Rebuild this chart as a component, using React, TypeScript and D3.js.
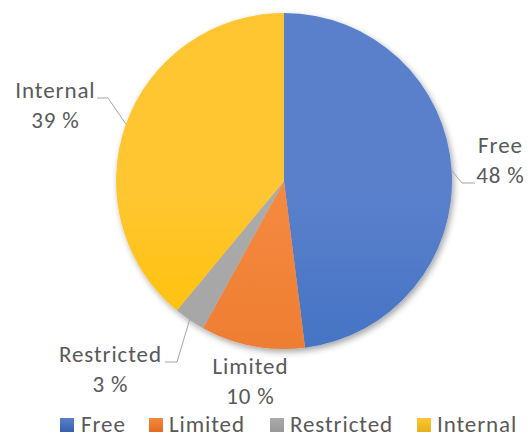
import React from "react";
import * as d3 from "d3";

const categories = ["Free", "Limited", "Restricted", "Internal"];
const values = [48, 10, 3, 39];
const baseColors = ["#4472C4", "#ED7D31", "#A5A5A5", "#FFC000"];
const topColors = ["#5a80cb", "#f5893f", "#ababab", "#ffc632"];
const bottomColors = ["#365fae", "#e26b20", "#999999", "#e4b01c"];

// label layout (center x, first baseline y, elbow, end)
const labelLayout = [
  { x: 500, y: 153, elbow: [462, 183], end: [475, 183] },
  { x: 250, y: 374, elbow: null, end: null },
  { x: 110, y: 362, elbow: [177, 362], end: [165, 362] },
  { x: 55, y: 98, elbow: [108, 98], end: [97, 98] },
];

const W = 529;
const H = 437;
const cx = 284;
const cy = 181;
const R = 168;
const FONT = "Carlito, Calibri, Lato, 'Open Sans', sans-serif";
const TEXT = "#595959";
const LS = 0.9;

export default function App() {
  const pie = d3.pie<number>().sort(null).value((d) => d)(values);
  const arc = d3.arc<d3.PieArcDatum<number>>().innerRadius(0).outerRadius(R);
  const total = d3.sum(values);

  const legendItems = [
    { sq: 60, tx: 81 },
    { sq: 149, tx: 169 },
    { sq: 270, tx: 290 },
    { sq: 417, tx: 437 },
  ];

  return (
    <svg width={W} height={H} style={{ position: "absolute", left: 0, top: 0 }} fontFamily={FONT}>
      <defs>
        {categories.map((c, i) => (
          <linearGradient key={c} id={`g${i}`} gradientUnits="userSpaceOnUse" x1={0} y1={cy - R} x2={0} y2={cy + R}>
            <stop offset="0%" stopColor={topColors[i]} />
            <stop offset="50%" stopColor={baseColors[i]} />
            <stop offset="100%" stopColor={bottomColors[i]} />
          </linearGradient>
        ))}
        {categories.map((c, i) => (
          <linearGradient key={c} id={`lg${i}`} x1={0} y1={0} x2={0} y2={1}>
            <stop offset="0%" stopColor={topColors[i]} />
            <stop offset="100%" stopColor={bottomColors[i]} />
          </linearGradient>
        ))}
        <filter id="shadow" x="-20%" y="-20%" width="140%" height="140%">
          <feDropShadow dx="2" dy="3" stdDeviation="3" floodColor="#000" floodOpacity="0.35" />
        </filter>
      </defs>
      <g transform={`translate(${cx},${cy})`} filter="url(#shadow)">
        {pie.map((p, i) => (
          <path key={i} d={arc(p) || ""} fill={`url(#g${i})`} />
        ))}
      </g>
      {pie.map((p, i) => {
        const L = labelLayout[i];
        const mid = (p.startAngle + p.endAngle) / 2;
        const sx = cx + R * Math.sin(mid);
        const sy = cy - R * Math.cos(mid);
        const pct = Math.round((values[i] / total) * 100);
        return (
          <g key={i}>
            {L.elbow && L.end && (
              <polyline
                points={`${sx},${sy} ${L.elbow[0]},${L.elbow[1]} ${L.end[0]},${L.end[1]}`}
                fill="none"
                stroke="#a6a6a6"
                strokeWidth={1}
              />
            )}
            <text x={L.x + LS / 2} y={L.y} textAnchor="middle" fontSize={23} fill={TEXT} letterSpacing={LS}>
              {categories[i]}
            </text>
            <text x={L.x + LS / 2} y={L.y + 30} textAnchor="middle" fontSize={23} fill={TEXT} letterSpacing={LS}>
              {`${pct} %`}
            </text>
          </g>
        );
      })}
      {categories.map((c, i) => (
        <g key={c}>
          <rect x={legendItems[i].sq} y={418} width={14} height={14} fill={`url(#lg${i})`} />
          <text x={legendItems[i].tx} y={432} fontSize={23} fill={TEXT} letterSpacing={LS}>
            {c}
          </text>
        </g>
      ))}
    </svg>
  );
}
